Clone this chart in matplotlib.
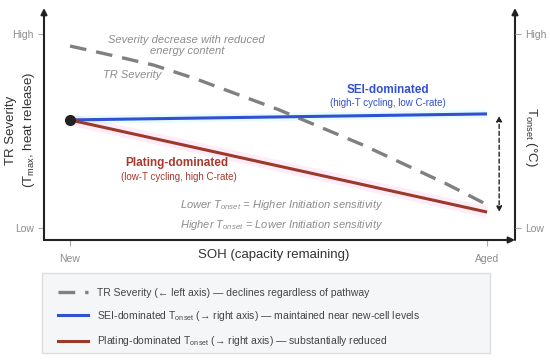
import matplotlib
matplotlib.use("Agg")
import matplotlib.pyplot as plt
from matplotlib.patches import Rectangle
import numpy as np

plt.rcParams['font.family'] = ['Liberation Sans', 'DejaVu Sans']
plt.rcParams['mathtext.fontset'] = 'custom'
plt.rcParams['mathtext.rm'] = 'Liberation Sans'
plt.rcParams['mathtext.it'] = 'Liberation Sans:italic'
plt.rcParams['mathtext.bf'] = 'Liberation Sans:bold'

# x: 0 = New, 1 = Aged ; y: 0 = Low, 1 = High
soh = [0.0, 0.1, 0.2, 0.3, 0.4, 0.5, 0.6, 0.7, 0.8, 0.9, 1.0]
severity = [0.938, 0.89, 0.84, 0.77, 0.69, 0.61, 0.52, 0.43, 0.33, 0.23, 0.12]

path_x = [0.0, 1.0]
sei_onset = [0.557, 0.588]
plating_onset = [0.557, 0.082]

x_ticks = [0, 1]
x_labels = ['New', 'Aged']
y_ticks = [0, 1]
y_labels = ['Low', 'High']

gray = '#808080'
blue = '#3150d2'
red = '#9c3a2a'
txt_gray = '#8c8c8c'

fig = plt.figure(figsize=(5.5, 3.6), dpi=100)
ax = fig.add_axes([44/550, 1-240/360, 471/550, 232/360])
ax.set_xlim(-0.0624, 1.067)
ax.set_ylim(-0.062, 1.134)
for s in ax.spines.values():
    s.set_visible(False)

# halos
ax.plot(path_x, sei_onset, color='#7ff0ff', lw=6, alpha=0.18, solid_capstyle='butt')
ax.plot(path_x, plating_onset, color='#ff80d0', lw=8, alpha=0.15, solid_capstyle='butt')

ax.plot(soh, severity, color=gray, lw=2.4, dashes=(5, 3), label='TR Severity')
ax.plot(path_x, sei_onset, color=blue, lw=2.2, solid_capstyle='butt')
ax.plot(path_x, plating_onset, color=red, lw=2.2, solid_capstyle='butt')
ax.plot([path_x[0]], [sei_onset[0]], 'o', color='#222222', ms=7, zorder=5)

# axes with arrows
arrow = dict(arrowstyle='-|>', color='#222222', lw=1.5, mutation_scale=9, shrinkA=0, shrinkB=0)
ax.annotate('', xy=(0, 1), xytext=(0, 0), xycoords='axes fraction', arrowprops=arrow)
ax.annotate('', xy=(1, 1), xytext=(1, 0), xycoords='axes fraction', arrowprops=arrow)
ax.annotate('', xy=(1, 0), xytext=(0, 0), xycoords='axes fraction', arrowprops=arrow)

# dashed double arrow
ax.annotate('', xy=(1.029, plating_onset[1]), xytext=(1.029, sei_onset[1] - 0.01),
            arrowprops=dict(arrowstyle='<|-|>', color='#222222', lw=1, ls=(0, (3, 2)),
                            mutation_scale=8, shrinkA=0, shrinkB=0))

ax.set_xticks(x_ticks)
ax.set_xticklabels(x_labels)
ax.set_yticks(y_ticks)
ax.set_yticklabels(y_labels)
ax.tick_params(colors='#aaaaaa', labelcolor=txt_gray, labelsize=7.5, length=4, width=0.8)
ax.tick_params(axis='x', pad=6)

ax2 = ax.twinx()
ax2.set_ylim(ax.get_ylim())
for s in ax2.spines.values():
    s.set_visible(False)
ax2.set_yticks(y_ticks)
ax2.set_yticklabels(y_labels)
ax2.tick_params(colors='#aaaaaa', labelcolor=txt_gray, labelsize=7.5, length=4, width=0.8)

# annotations
ax.text(0.28, 0.94, 'Severity decrease with reduced\nenergy content', color=txt_gray,
        style='italic', fontsize=8, ha='center', va='center', linespacing=1.2)
ax.text(0.149, 0.789, 'TR Severity', color=txt_gray, style='italic', fontsize=8,
        ha='center', va='center')
ax.text(0.763, 0.711, 'SEI-dominated', color=blue, fontweight='bold', fontsize=8.5,
        ha='center', va='center')
ax.text(0.763, 0.644, '(high-T cycling, low C-rate)', color=blue, fontsize=7,
        ha='center', va='center')
ax.text(0.257, 0.335, 'Plating-dominated', color='#a8392c', fontweight='bold', fontsize=8.5,
        ha='center', va='center')
ax.text(0.26, 0.263, '(low-T cycling, high C-rate)', color='#a8392c', fontsize=7,
        ha='center', va='center')
ax.text(0.264, 0.119, r'Lower $T_{onset}$ = Higher Initiation sensitivity', color=txt_gray,
        style='italic', fontsize=8, ha='left', va='center')
ax.text(0.264, 0.015, r'Higher $T_{onset}$ = Lower Initiation sensitivity', color=txt_gray,
        style='italic', fontsize=8, ha='left', va='center')

# axis titles
fig.text(274/550, 1-255/360, 'SOH (capacity remaining)', fontsize=9.5, color='#333333',
         ha='center', va='center')
fig.text(21/550, 1-130/360, 'TR Severity\n(T$_{\\rm max}$, heat release)', fontsize=9.5,
         color='#333333', rotation=90, ha='center', va='center', linespacing=1.45)
fig.text(531/550, 1-137/360, 'T$_{\\rm onset}$ (°C)', fontsize=9.5, color='#333333',
         rotation=270, ha='center', va='center')

# legend panel
fig.patches.append(Rectangle((42/550, 1-353/360), 448/550, 80/360, transform=fig.transFigure,
                             facecolor='#f5f6f8', edgecolor='#dddddd', lw=1, zorder=0))
h1, = ax.plot([], [], color=gray, lw=2.4, dashes=(5, 3))
h2, = ax.plot([], [], color=blue, lw=2.2)
h3, = ax.plot([], [], color=red, lw=2.2)
labels = ['TR Severity (\u2190 left axis) \u2014 declines regardless of pathway',
          'SEI-dominated T$_{\\rm onset}$ (\u2192 right axis) \u2014 maintained near new-cell levels',
          'Plating-dominated T$_{\\rm onset}$ (\u2192 right axis) \u2014 substantially reduced']
leg = fig.legend([h1, h2, h3], labels, loc='center left', bbox_to_anchor=(58/550, 1-318/360),
                 frameon=False, fontsize=7.5, handlelength=2.9, handletextpad=0.85,
                 labelspacing=1.1, borderpad=0, borderaxespad=0)
for t in leg.get_texts():
    t.set_color('#444444')

fig.savefig('out.png', dpi=100)
